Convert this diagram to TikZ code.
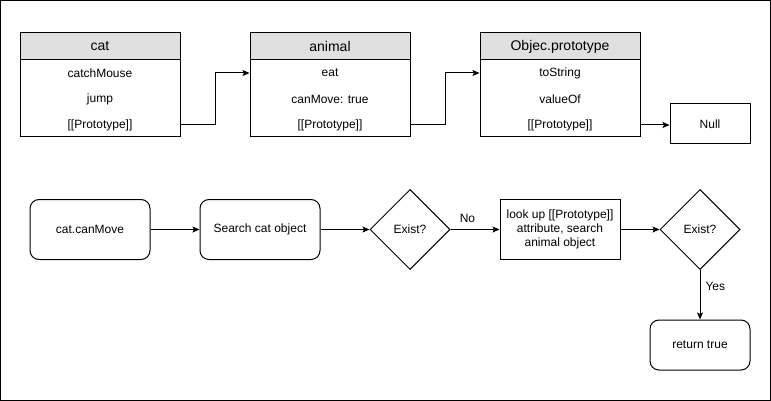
\documentclass[tikz,border=0pt]{standalone}
\usepackage{fontspec}
\setmainfont{Liberation Sans}
\usetikzlibrary{arrows.meta,positioning,calc,shapes.geometric}
\definecolor{hdr}{HTML}{E0E0E0}
\definecolor{ink}{HTML}{000000}

\begin{document}
\begin{tikzpicture}[
    x=1pt, y=-1pt,
    font=\fontsize{12}{14}\selectfont,
    line width=1pt,
    head/.style={rectangle, draw=ink, fill=hdr, minimum width=160pt, minimum height=27pt,
                 inner sep=0pt, font=\fontsize{14}{16}\selectfont},
    body/.style={rectangle, draw=ink, fill=white, minimum width=160pt, minimum height=77pt,
                 inner sep=0pt},
    item/.style={inner sep=0pt},
    proc/.style={rectangle, rounded corners=9pt, draw=ink, minimum width=120pt,
                 minimum height=60pt, inner sep=2pt, align=center},
    plain/.style={rectangle, draw=ink, minimum width=120pt, minimum height=60pt,
                  inner sep=2pt, align=center},
    decide/.style={diamond, draw=ink, minimum width=80pt, minimum height=80pt,
                   inner sep=0pt, aspect=1},
    flow/.style={-{Stealth[length=7pt,width=6pt,inset=1.5pt]}, line width=1pt, color=ink},
    tag/.style={inner sep=0pt, font=\fontsize{12}{14}\selectfont}
  ]

% ---------------- canvas ----------------
\useasboundingbox (0,0) rectangle (771,401);
\draw[ink] (0.5,0.5) rectangle (770.5,400.5);

% ---------------- geometry ----------------
\def\yh{46.5}     % centre of class headers
\def\yb{98.5}     % centre of class bodies
\def\yf{229.5}    % centre of the flow row

% ---------------- class boxes (top row) ----------------
\newcommand{\classbox}[5]{% name, centre x, title, row 1, row 2
  \node[head] (#1H) at (#2, \yh) {#3};
  \node[body] (#1B) at (#2, \yb) {};
  \node[item] (#1a) at (#2, 73)  {#4};
  \node[item] (#1b) at (#2, 99)  {#5};
  \node[item] (#1p) at (#2, 125) {[[Prototype]]};
}
\classbox{cat}{100}{cat}{catchMouse}{jump}
\classbox{anim}{330}{animal}{eat}{canMove: true}
\classbox{obj}{560}{Objec.prototype}{toString}{valueOf}

\node[rectangle, draw=ink, minimum width=80pt, minimum height=40pt] (null) at (710, 124) {Null};

% ---------------- prototype links ----------------
\draw[flow] (catB.east |- catp) -- ++(35,0) |- (animB.west |- anima);
\draw[flow] (animB.east |- animp) -- ++(35,0) |- (objB.west |- obja);
\draw[flow] (objB.east |- objp) -- (null.west |- objp);

% ---------------- lookup flow (bottom row) ----------------
\node[proc]   (ask)    at (90, \yf)  {cat.canMove};
\node[proc]   (search) at (260, \yf) {Search cat object};
\node[decide] (chk1)   at (410, \yf) {Exist?};
\node[plain]  (look)   at (560, \yf) {look up [[Prototype]]\\attribute, search\\animal object};
\node[decide] (chk2)   at (700, \yf) {Exist?};
\node[proc, minimum width=100pt, minimum height=50pt] (ret) at (700, 345) {return true};

\draw[flow] (ask.east) -- (search.west);
\draw[flow] (search.east) -- (chk1.west);
\draw[flow] (chk1.east) -- node[tag, pos=0.18, anchor=south west, yshift=6pt] {No} (look.west);
\draw[flow] (look.east) -- (chk2.west);
\draw[flow] (chk2.south) -- node[tag, pos=0.33, anchor=west, xshift=5pt] {Yes} (ret.north);

\end{tikzpicture}
\end{document}
